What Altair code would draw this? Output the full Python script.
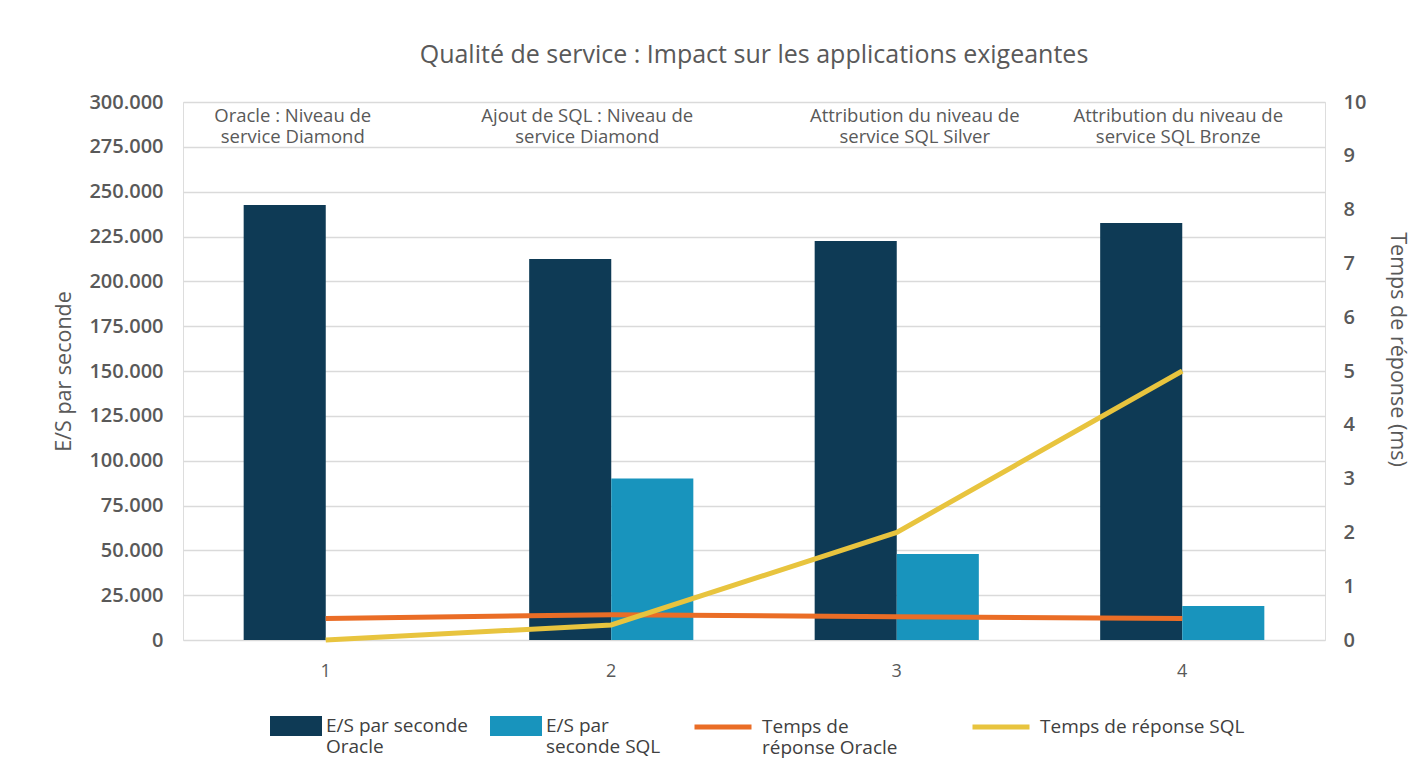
import altair as alt
import pandas as pd

# ---- data ----
groups = ["1", "2", "3", "4"]
io_oracle = [242500, 212500, 222500, 232500]
io_sql = [None, 90000, 48000, 19000]
rt_oracle = [0.40, 0.47, 0.43, 0.40]
rt_sql = [0.0, 0.28, 2.0, 5.0]
annotations = [
    "Oracle : Niveau de\nservice Diamond",
    "Ajout de SQL : Niveau de\nservice Diamond",
    "Attribution du niveau de\nservice SQL Silver",
    "Attribution du niveau de\nservice SQL Bronze",
]
bar_series = ["E/S par seconde\nOracle", "E/S par\nseconde SQL"]
line_series = ["Temps de\nréponse Oracle", "Temps de réponse SQL\n"]
left_ticks = list(range(0, 300001, 25000))
right_ticks = list(range(0, 11))

title_text = "Qualité de service : Impact sur les applications exigeantes"
left_title = "E/S par seconde"
right_title = "Temps de réponse (ms)"

# ---- tables ----
bar_rows = []
for g, a, b in zip(groups, io_oracle, io_sql):
    bar_rows.append({"groupe": g, "serie": bar_series[0], "valeur": a})
    if b is not None:
        bar_rows.append({"groupe": g, "serie": bar_series[1], "valeur": b})
bar_df = pd.DataFrame(bar_rows)

line_rows = []
for s, vals in zip(line_series, [rt_oracle, rt_sql]):
    for g, v in zip(groups, vals):
        line_rows.append({"groupe": g, "serie": s, "temps": v})
line_df = pd.DataFrame(line_rows)

FONT = "Open Sans"
GREY = "#595959"
NAVY = "#0e3a55"
TEAL = "#1894bd"
ORANGE = "#ea6d26"
YELLOW = "#e8c43e"

# horizontal nudges of the annotation texts (style only)
ann_dx = [-33, -24, 18, -4]

x_scale = alt.Scale(paddingInner=0.425, paddingOuter=0.2125)

x_axis = alt.Axis(
    title=None, labelAngle=0, domain=False, ticks=False, labelPadding=22,
    labelFontSize=18, labelColor=GREY, labelFont=FONT, grid=False,
)

bars = alt.Chart(bar_df).mark_bar().encode(
    x=alt.X("groupe:N", sort=groups, scale=x_scale, axis=x_axis),
    xOffset=alt.XOffset("serie:N", sort=bar_series,
                        scale=alt.Scale(domain=bar_series, paddingInner=0, paddingOuter=0)),
    y=alt.Y(
        "valeur:Q",
        scale=alt.Scale(domain=[0, 300000], nice=False),
        axis=alt.Axis(
            title=left_title, values=left_ticks, domain=False, ticks=False,
            labelExpr="replace(format(datum.value, ','), ',', '.')",
            labelFontSize=20, labelFontWeight=600, labelColor=GREY, labelFont=FONT,
            labelPadding=20, titleFontSize=21.5, titleFontWeight="normal",
            titleColor=GREY, titleFont=FONT, titlePadding=13,
            grid=True, gridColor="#dadada", gridWidth=1.5,
        ),
    ),
    fill=alt.Fill(
        "serie:N",
        scale=alt.Scale(domain=bar_series, range=[NAVY, TEAL]),
        legend=alt.Legend(
            title=None, orient="none", legendX=87, legendY=598,
            direction="horizontal", symbolType="M-1,-0.38H1V0.38H-1Z",
            symbolSize=2704, symbolStrokeWidth=0,
            labelExpr="split(datum.label, '\\n')",
            labelFontSize=19, labelFont=FONT, labelColor="#404040",
            labelOffset=4, columnPadding=22, labelLimit=300,
        ),
    ),
)

ann_layers = []
for g, txt, dx in zip(groups, annotations, ann_dx):
    ann_layers.append(
        alt.Chart(pd.DataFrame({"groupe": [g], "texte": [txt]})).mark_text(
            baseline="top", align="center", fontSize=18.5, lineHeight=21,
            color=GREY, font=FONT, lineBreak="\n", dx=dx,
        ).encode(
            x=alt.X("groupe:N", sort=groups, scale=x_scale),
            y=alt.value(5),
            text="texte:N",
        )
    )

lines = alt.Chart(line_df).mark_line(strokeWidth=5).encode(
    x=alt.X("groupe:N", sort=groups, scale=x_scale),
    y=alt.Y(
        "temps:Q",
        scale=alt.Scale(domain=[0, 10], nice=False),
        axis=alt.Axis(
            title=right_title, orient="right", values=right_ticks,
            domain=False, ticks=False, grid=False,
            labelFontSize=20, labelFontWeight=600, labelColor=GREY, labelFont=FONT,
            labelPadding=18, titleFontSize=21.5, titleFontWeight="normal",
            titleColor=GREY, titleFont=FONT, titlePadding=20, titleY=247,
        ),
    ),
    stroke=alt.Stroke(
        "serie:N",
        scale=alt.Scale(domain=line_series, range=[ORANGE, YELLOW]),
        legend=alt.Legend(
            title=None, orient="none", legendX=509, legendY=594,
            direction="horizontal", symbolType="stroke",
            symbolSize=3249, symbolStrokeWidth=5,
            labelExpr="split(datum.label, '\\n')",
            labelFontSize=19, labelFont=FONT, labelColor="#404040",
            labelOffset=8, columnPadding=64, labelLimit=300,
        ),
    ),
    order=alt.Order("serie:N"),
)

chart = alt.layer(bars, *ann_layers, lines).resolve_scale(
    y="independent"
).properties(
    width=1142,
    height=538,
    autosize=alt.AutoSizeParams(type="none"),
    padding={"left": 175, "top": 94, "right": 93, "bottom": 121},
    title=alt.TitleParams(
        title_text, fontSize=25, fontWeight="normal", color=GREY, font=FONT,
        anchor="middle", offset=24,
    ),
).configure_view(stroke=None).configure(background="white")

chart.save("out.html", embed_options={"renderer": "svg", "actions": False})
